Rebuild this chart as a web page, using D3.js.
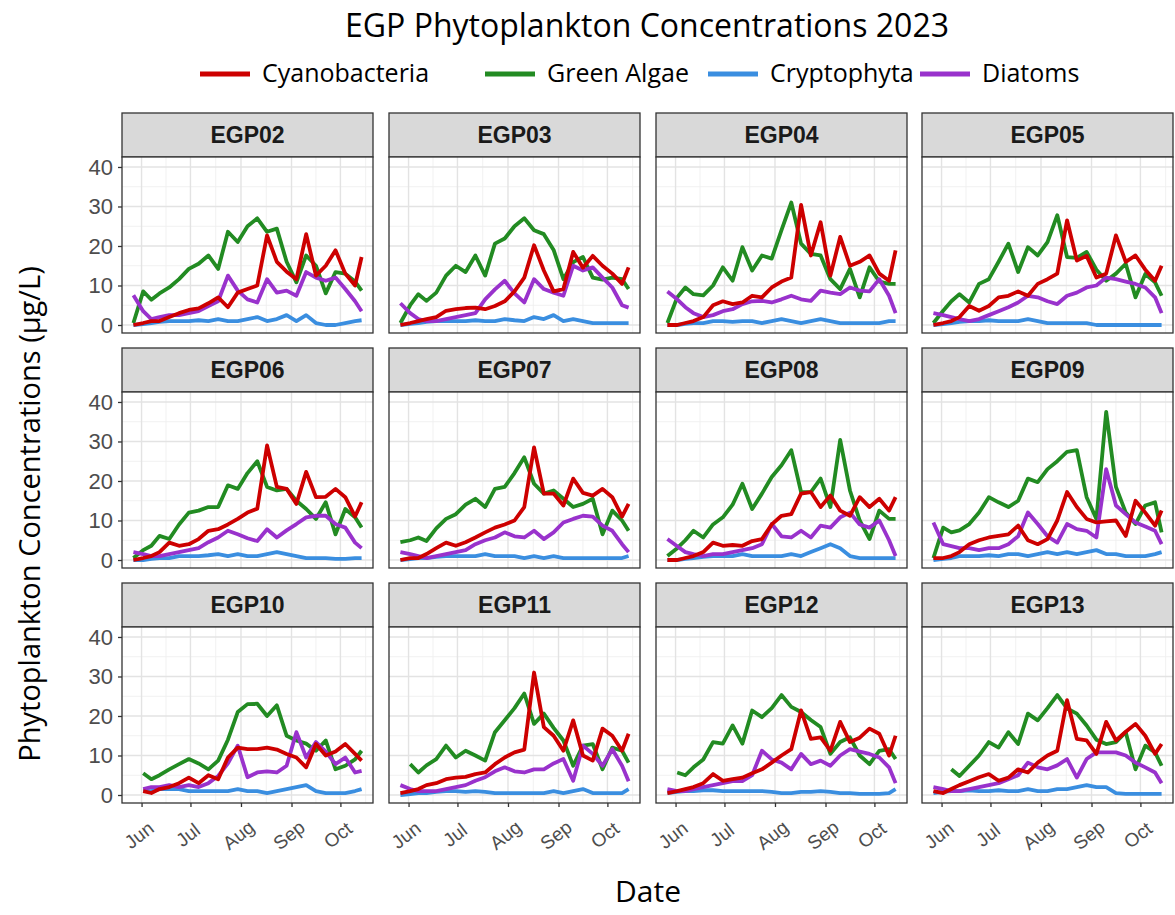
<!DOCTYPE html>
<html>
<head>
<meta charset="utf-8">
<script src="https://cdn.jsdelivr.net/npm/d3@7"></script>
<style>
  body { margin: 0; background: #fff; }
  svg { display: block; }
</style>
</head>
<body>
<svg id="chart" width="1175" height="915"></svg>
<script>
// ---- data ----
var sites = ["EGP02","EGP03","EGP04","EGP05","EGP06","EGP07","EGP08","EGP09","EGP10","EGP11","EGP12","EGP13"];

var sampleDates = ["2023-05-27","2023-06-02","2023-06-07","2023-06-12","2023-06-18","2023-06-24","2023-06-30",
  "2023-07-06","2023-07-12","2023-07-18","2023-07-24","2023-07-30","2023-08-05","2023-08-11","2023-08-17",
  "2023-08-23","2023-08-29","2023-09-04","2023-09-10","2023-09-16","2023-09-22","2023-09-28","2023-10-04",
  "2023-10-10","2023-10-14"];

var monthTicks = ["2023-06-01","2023-07-01","2023-08-01","2023-09-01","2023-10-01"];
var monthLabels = ["Jun","Jul","Aug","Sep","Oct"];
var yTicks = [0, 10, 20, 30, 40];

var taxa = ["Cyanobacteria","Green Algae","Cryptophyta","Diatoms"];
var taxaColors = ["#CD0000","#228B22","#3A8EE0","#9932CC"];

// one row per site, one value per sample date (µg/L)
var cyanobacteria = [
  [0,0.5,1,1,2,3,3.8,4.2,5.5,7,4.5,8.2,9.1,10,22.7,16,13.5,11.6,23,12.5,15,18.9,13,10,17.2],
  [0,0.5,1,1.5,2,3.6,4,4.3,4.4,4,4.8,6,8.5,12,20.2,13.8,8.5,9.1,18.5,14.5,17.5,15,13,10.4,14.6],
  [0,0,0.5,1,2,5,6,5.3,5.7,7.4,7,9.5,11,12,30.4,17.6,26,12.5,22.3,15,16,17.6,13,11.2,18.9],
  [0,0.5,1,2,4.8,3.6,4.8,7,7.4,8.5,7.4,10.4,11.6,13,26.5,16.3,17.5,12,13,22.7,16,17.6,14,11.2,15],
  [0,0.5,1,2,4.4,3.6,4,5.3,7.4,7.8,9,10.4,12,13,29,18.5,18,14.2,22.3,15.9,16,18,15.9,11,14.6],
  [0,0.5,0.5,1.5,3,4.4,3.6,4.5,5.7,7,8.2,9,10,13.4,28.5,16.8,16.8,13.8,20.6,17,16.3,18,15.9,11,14.2],
  [0,0,0.5,1,2,4.4,3.6,3.8,3.6,4.8,5.3,9,11.2,11.6,16.8,17.2,13.4,16.3,12.5,11.2,15.9,13.4,15.5,12.5,15.9],
  [0.5,0.5,1,2,4,5,5.7,6.1,6.5,8.7,5,4,5.3,10,17.2,13.4,10.4,9.5,9.8,10,6.1,15,12,8.7,12.5],
  [null,1,0.5,1.5,2,3,4.4,3,5,4,9.5,12,11.6,11.6,12,11.5,10.4,9.5,7,12.9,10,11,12.9,10.4,8.7],
  [0.5,1,1.5,2.5,3,4,4.4,4.6,5.3,5.7,7.8,9.5,10.8,11.5,31,17.2,15,11.2,18.9,10,8.7,16.8,15,11.2,15.5],
  [0.5,1,1.5,2,3,5.3,3.6,4,4.4,5.5,6.5,8.2,10,11.6,21.4,14.2,14.6,11.2,18.5,13.4,14.5,16.8,15.5,10,15],
  [1,0.5,1.5,2.5,3.5,4.5,5.3,3.6,4.4,6.5,5.7,8.2,10,11.2,24,14.2,13.8,10.4,18.5,13.8,16,18,15,10.4,12.9]
];

var greenAlgae = [
  [0.5,8.5,6.4,8,9.5,11.6,14.2,15.5,17.6,14.2,23.6,21,25,27,23.6,24.4,16,10.8,17.6,15,8,13.4,13,11,8.7],
  [0.5,5,7.8,6.1,8.2,12.5,15,13.4,17.6,12.5,20.6,21.9,25,27,24,23,19,11.6,15.9,17.2,12,11.5,12,11.6,9.1],
  [0.5,7,9.5,7.8,7.5,10,14.6,11.2,19.7,13.8,17.6,16.8,24,31,20.6,18,17.6,11.6,9.1,14.2,7,14.6,11,10.4,10.4],
  [0.5,3.6,6,7.8,5.7,10.4,11.6,16,20.6,13.4,19.7,17.6,21,27.8,17.2,17,18.5,14,11.2,13,15.5,7,12.9,10.8,7.4],
  [0.5,2.5,3.6,6.1,5.3,9,12,12.5,13.4,13.4,18.9,18,22,25,18.5,17.6,18,15,12.9,10.4,14.6,6.5,12.9,10.8,8.2],
  [4.5,5,5.7,4.8,8,10.4,11.6,14,15.5,13.4,18,18.5,22,26,19.3,16.8,17.6,15.5,13.4,14.2,15.5,6.5,12.5,10,7.4],
  [1,3,5,7.4,5.7,9,10.8,14,19.3,12.9,16.8,21,24,27.8,17.2,17.2,20.6,13.4,30.4,17.6,10,5.3,12.5,10.4,10.4],
  [0.5,8.2,7,7.5,9.1,12,15.9,14.6,13.4,15,20.6,19.7,23,25,27.4,27.8,15.9,10.4,37.5,18.5,12,9.1,13.8,14.6,7],
  [null,5.5,4,5,6.5,7.8,9.1,8,6.5,8.7,14,21,23,23.1,20,22.7,15,13.8,13,11.2,13.8,6.5,7.4,9,11.2],
  [null,7.8,5.7,7.5,9.1,12.5,9.5,11.2,10,8.7,15.9,18.9,22,25.7,18,20.6,17,13.8,7.4,12.5,12.9,6.5,12,11.2,8.2],
  [null,5.7,5,7,9,13.4,13,17.6,13,21.4,19.7,22,25.3,22.3,21,19,17.2,10.4,13.4,14.6,10,7.8,11.2,11.6,9.1],
  [null,null,6.5,4.8,7.4,10,13.4,12,15.9,12.9,20.6,18.9,22,25.3,21.9,20.6,17.6,14,12.9,13.4,15.9,6.5,12.5,10.8,7.4]
];

var cryptophyta = [
  [0,0.2,0.5,0.8,1,1,1,1.2,1,1.5,1,1,1.5,2,1,1.5,2.5,1,2.5,0.5,0,0,0.5,1,1.2],
  [0,0.3,0.5,0.8,1,1,1,1,1.2,1,1,1.5,1.2,1,2,1.5,2.5,1,1.5,1,0.5,0.5,0.5,0.5,0.5],
  [0,0,0.3,0.5,0.5,1,1,0.8,1,1,0.5,1,1.5,1,0.5,1,1.5,1,0.5,0.5,0.5,0.5,0.5,1,1],
  [0,0.2,0.5,0.8,1,1,1.2,1,1,1,1.5,1,0.5,0.5,0.5,0.5,0.5,0,0,0,0,0,0,0,0],
  [0,0,0.3,0.5,0.5,1,1,1,1.2,1.5,1,1.5,1,1,1.5,2,1.5,1,0.5,0.5,0.5,0.3,0.3,0.5,0.5],
  [0,0.2,0.5,0.5,0.8,1,1,1,1,1.5,1,1,1,0.5,1,0.5,1,0.5,0.5,0.5,0.5,0.5,0.5,0.5,1],
  [0,0,0.3,0.5,0.8,1,1,1,1.5,1,1,1,1,1.5,1,2,3,4,3,1,0.5,0.5,0.5,0.5,0.5],
  [0,0.3,0.5,1,1,1,1.2,1,1.5,1.5,1,1.5,2,1.5,2,1.5,2,2.5,1.5,1.5,1,1,1,1.5,2],
  [null,1,1,1.5,1.5,1.5,1,1,1,1,1,1.5,1,1,0.5,1,1.5,2,2.5,1,0.5,0.5,0.5,1,1.5],
  [0,0.2,0.5,0.5,0.8,1,1,0.8,1,0.8,0.5,0.5,0.5,0.5,0.5,0.5,1,0.5,1,1.5,0.5,0.5,0.5,0.5,1.5],
  [0.5,0.8,1,1,1.2,1.2,1,1,1,1,1,0.8,0.5,0.5,0.8,0.8,1,0.8,0.5,0.5,0.3,0.3,0.3,0.5,1.5],
  [0.5,0.8,1,1,1.2,1,1,1.2,1,1,1.5,1,1,1.5,1.5,2,2.5,2,2,0.5,0.3,0.3,0.3,0.3,0.3]
];

var diatoms = [
  [7.5,3.5,1.5,2,2.5,2.5,3,3.5,4.8,6,12.5,8.7,6.5,5.7,11.6,8.2,8.7,7.4,13.4,12,11.2,12,9.1,6,3.5],
  [5.5,3,1.5,1,1,1.5,2,2.5,3,6.5,9,11.2,8,5.7,11.6,9.1,8.2,7.4,15,13.8,14.6,12,9.5,5,4.4],
  [8.5,6.5,4.5,3,2,2.5,3.5,4,5.3,6,6.1,5.7,6.5,7.4,6.5,6.1,8.7,8.2,7.8,9.5,8.7,8.5,11.6,7.4,3],
  [3,2.5,2,1.5,1,1.5,2.5,3.5,4.5,5.7,7.4,7,6,5.3,7.4,8.2,9.5,10,12,11.6,11,10.4,9.5,7,3],
  [2,1.5,1,1,1.5,2,2.5,3,4.5,5.7,7.4,6.5,5.5,4.8,7.8,5.7,7.5,9.1,10.8,11.2,11.2,9.1,8.2,4.4,3],
  [2,1.5,1,0.5,1,1.5,2,2.5,4,5,5.7,7,6,5.7,7.4,5.3,7,9.5,10.4,11.2,11,8.7,7.4,4,2],
  [5.3,3.5,2,1.5,1,1.5,1.5,2,2.5,3,4,9.1,6,5.7,7.4,5.7,8.7,8.2,10.8,12,9,8.2,10,5,1],
  [9.5,4,3.5,3,3,2.5,3,3,4,6,12,9.1,6,4.4,9.1,7.8,7.4,5.7,23,13.8,11.6,9.5,8.5,7.4,4],
  [null,1.5,2,2,2.5,2,2.5,2,3,4.8,8,12.5,4.5,5.7,6,5.7,7.4,15.9,9.5,13.4,11,7.8,9.5,5.7,6.1],
  [2.5,1.5,1,1,1,1.5,2,2.5,3.6,4.5,6,7,6,5.7,6.5,6.5,8,9.1,3.6,12.5,10.4,7.4,11.6,7.4,3.5],
  [1.5,1,1,1.5,2,2.5,3,3.5,3.5,5,11.2,9,8.2,6.5,10.4,7.8,8.7,7.4,10,11.6,11,10.4,9.5,7,3],
  [2,1.5,1,1,1.5,2,2.5,3,4,5,8.2,7,6.5,7.5,9.1,4.4,9.1,10.8,10.8,10.8,10,8.2,7,5.7,3]
];

// ---- layout ----
var svg = d3.select("#chart");
var fontSans = "'Open Sans', 'Noto Sans', sans-serif";
var fontArial = "'Liberation Sans', Arial, sans-serif";

var panelW = 251, stripH = 44, plotH = 176;
var colLeft = [122, 389, 656, 922];
var rowTop = [113, 348, 583];

var parseDate = d3.utcParse("%Y-%m-%d");
var dates = sampleDates.map(parseDate);
var ext = d3.extent(dates);
var pad = (ext[1] - ext[0]) * 0.05;

var x = d3.scaleUtc()
  .domain([new Date(+ext[0] - pad), new Date(+ext[1] + pad)])
  .range([0, panelW]);

var yLim = [0, 40.5];
var yPad = (yLim[1] - yLim[0]) * 0.05;
var y = d3.scaleLinear()
  .domain([yLim[0] - yPad, yLim[1] + yPad])
  .range([plotH, 0]);

var majorX = monthTicks.map(parseDate);
// minor breaks half way between the month breaks (and one past each end)
var minorX = [];
var extended = [parseDate("2023-05-01")].concat(majorX, [parseDate("2023-11-01")]);
for (var k = 0; k < extended.length - 1; k++) {
  var mid = new Date((+extended[k] + +extended[k + 1]) / 2);
  if (mid > x.domain()[0] && mid < x.domain()[1]) minorX.push(mid);
}
var minorY = [5, 15, 25, 35];

var seriesList = [greenAlgae, cryptophyta, diatoms, cyanobacteria];
var seriesColor = [taxaColors[1], taxaColors[2], taxaColors[3], taxaColors[0]];

var line = d3.line()
  .defined(function(d) { return d.v !== null; })
  .x(function(d) { return x(d.date); })
  .y(function(d) { return y(d.v); });

// ---- title ----
svg.append("text")
  .attr("x", 647).attr("y", 37)
  .attr("text-anchor", "middle")
  .style("font-family", fontSans).style("font-size", "32px").style("fill", "#000")
  .text("EGP Phytoplankton Concentrations 2023");

// ---- legend ----
var legendX = [200, 485, 708, 920];
taxa.forEach(function(t, i) {
  var g = svg.append("g").attr("transform", "translate(" + legendX[i] + ",74)");
  g.append("line")
    .attr("x1", 0).attr("x2", 50).attr("y1", 0).attr("y2", 0)
    .style("stroke", taxaColors[i]).style("stroke-width", 5);
  g.append("text")
    .attr("x", 62).attr("y", 8)
    .style("font-family", fontSans).style("font-size", "25px").style("fill", "#000")
    .text(t);
});

// ---- panels ----
sites.forEach(function(site, si) {
  var col = si % 4, row = Math.floor(si / 4);
  var g = svg.append("g")
    .attr("transform", "translate(" + colLeft[col] + "," + rowTop[row] + ")");

  // strip
  g.append("rect")
    .attr("x", 0).attr("y", 0).attr("width", panelW).attr("height", stripH)
    .style("fill", "#D9D9D9").style("stroke", "#333").style("stroke-width", 1.3);
  g.append("text")
    .attr("x", panelW / 2).attr("y", stripH / 2 + 8)
    .attr("text-anchor", "middle")
    .style("font-family", fontArial).style("font-size", "23px").style("font-weight", "bold")
    .style("fill", "#1A1A1A")
    .text(site);

  var p = g.append("g").attr("transform", "translate(0," + stripH + ")");
  p.append("rect")
    .attr("width", panelW).attr("height", plotH)
    .style("fill", "#fff");

  // grid
  p.selectAll(".gminx").data(minorX).enter().append("line")
    .attr("x1", function(d) { return x(d); }).attr("x2", function(d) { return x(d); })
    .attr("y1", 0).attr("y2", plotH)
    .style("stroke", "#EFEFEF").style("stroke-width", 0.9);
  p.selectAll(".gminy").data(minorY).enter().append("line")
    .attr("x1", 0).attr("x2", panelW)
    .attr("y1", function(d) { return y(d); }).attr("y2", function(d) { return y(d); })
    .style("stroke", "#EFEFEF").style("stroke-width", 0.9);
  p.selectAll(".gmajx").data(majorX).enter().append("line")
    .attr("x1", function(d) { return x(d); }).attr("x2", function(d) { return x(d); })
    .attr("y1", 0).attr("y2", plotH)
    .style("stroke", "#E3E3E3").style("stroke-width", 1.4);
  p.selectAll(".gmajy").data(yTicks).enter().append("line")
    .attr("x1", 0).attr("x2", panelW)
    .attr("y1", function(d) { return y(d); }).attr("y2", function(d) { return y(d); })
    .style("stroke", "#E3E3E3").style("stroke-width", 1.4);

  // lines
  seriesList.forEach(function(series, k) {
    var pts = dates.map(function(d, i) { return { date: d, v: series[si][i] }; });
    p.append("path")
      .datum(pts)
      .attr("d", line)
      .style("fill", "none")
      .style("stroke", seriesColor[k])
      .style("stroke-width", 3.8)
      .style("stroke-linejoin", "round");
  });

  // border
  p.append("rect")
    .attr("width", panelW).attr("height", plotH)
    .style("fill", "none").style("stroke", "#333").style("stroke-width", 1.3);

  // y axis on the first column
  if (col === 0) {
    var ya = p.append("g").call(d3.axisLeft(y).tickValues(yTicks).tickSize(4).tickPadding(5));
    ya.select(".domain").remove();
    ya.selectAll(".tick line").style("stroke", "#333").style("stroke-width", 1.3);
    ya.selectAll(".tick text")
      .style("font-family", fontArial).style("font-size", "22px").style("fill", "#4D4D4D");
  }

  // x axis on the bottom row
  if (row === 2) {
    var xa = p.append("g")
      .attr("transform", "translate(0," + plotH + ")")
      .call(d3.axisBottom(x).tickValues(majorX).tickSize(4)
        .tickFormat(function(d, i) { return monthLabels[i]; }));
    xa.select(".domain").remove();
    xa.selectAll(".tick line").style("stroke", "#333").style("stroke-width", 1.3);
    xa.selectAll(".tick text")
      .attr("y", 0).attr("dy", "0.35em")
      .attr("transform", "translate(-3,32) rotate(-38)")
      .style("text-anchor", "middle")
      .style("font-family", fontArial).style("font-size", "19px").style("fill", "#4D4D4D");
  }
});

// ---- axis titles ----
svg.append("text")
  .attr("transform", "translate(40,514) rotate(-90)")
  .attr("text-anchor", "middle")
  .style("font-family", fontSans).style("font-size", "29px").style("fill", "#000")
  .text("Phytoplankton Concentrations (µg/L)");

svg.append("text")
  .attr("x", 648).attr("y", 902)
  .attr("text-anchor", "middle")
  .style("font-family", fontSans).style("font-size", "30px").style("fill", "#000")
  .text("Date");
</script>
</body>
</html>
